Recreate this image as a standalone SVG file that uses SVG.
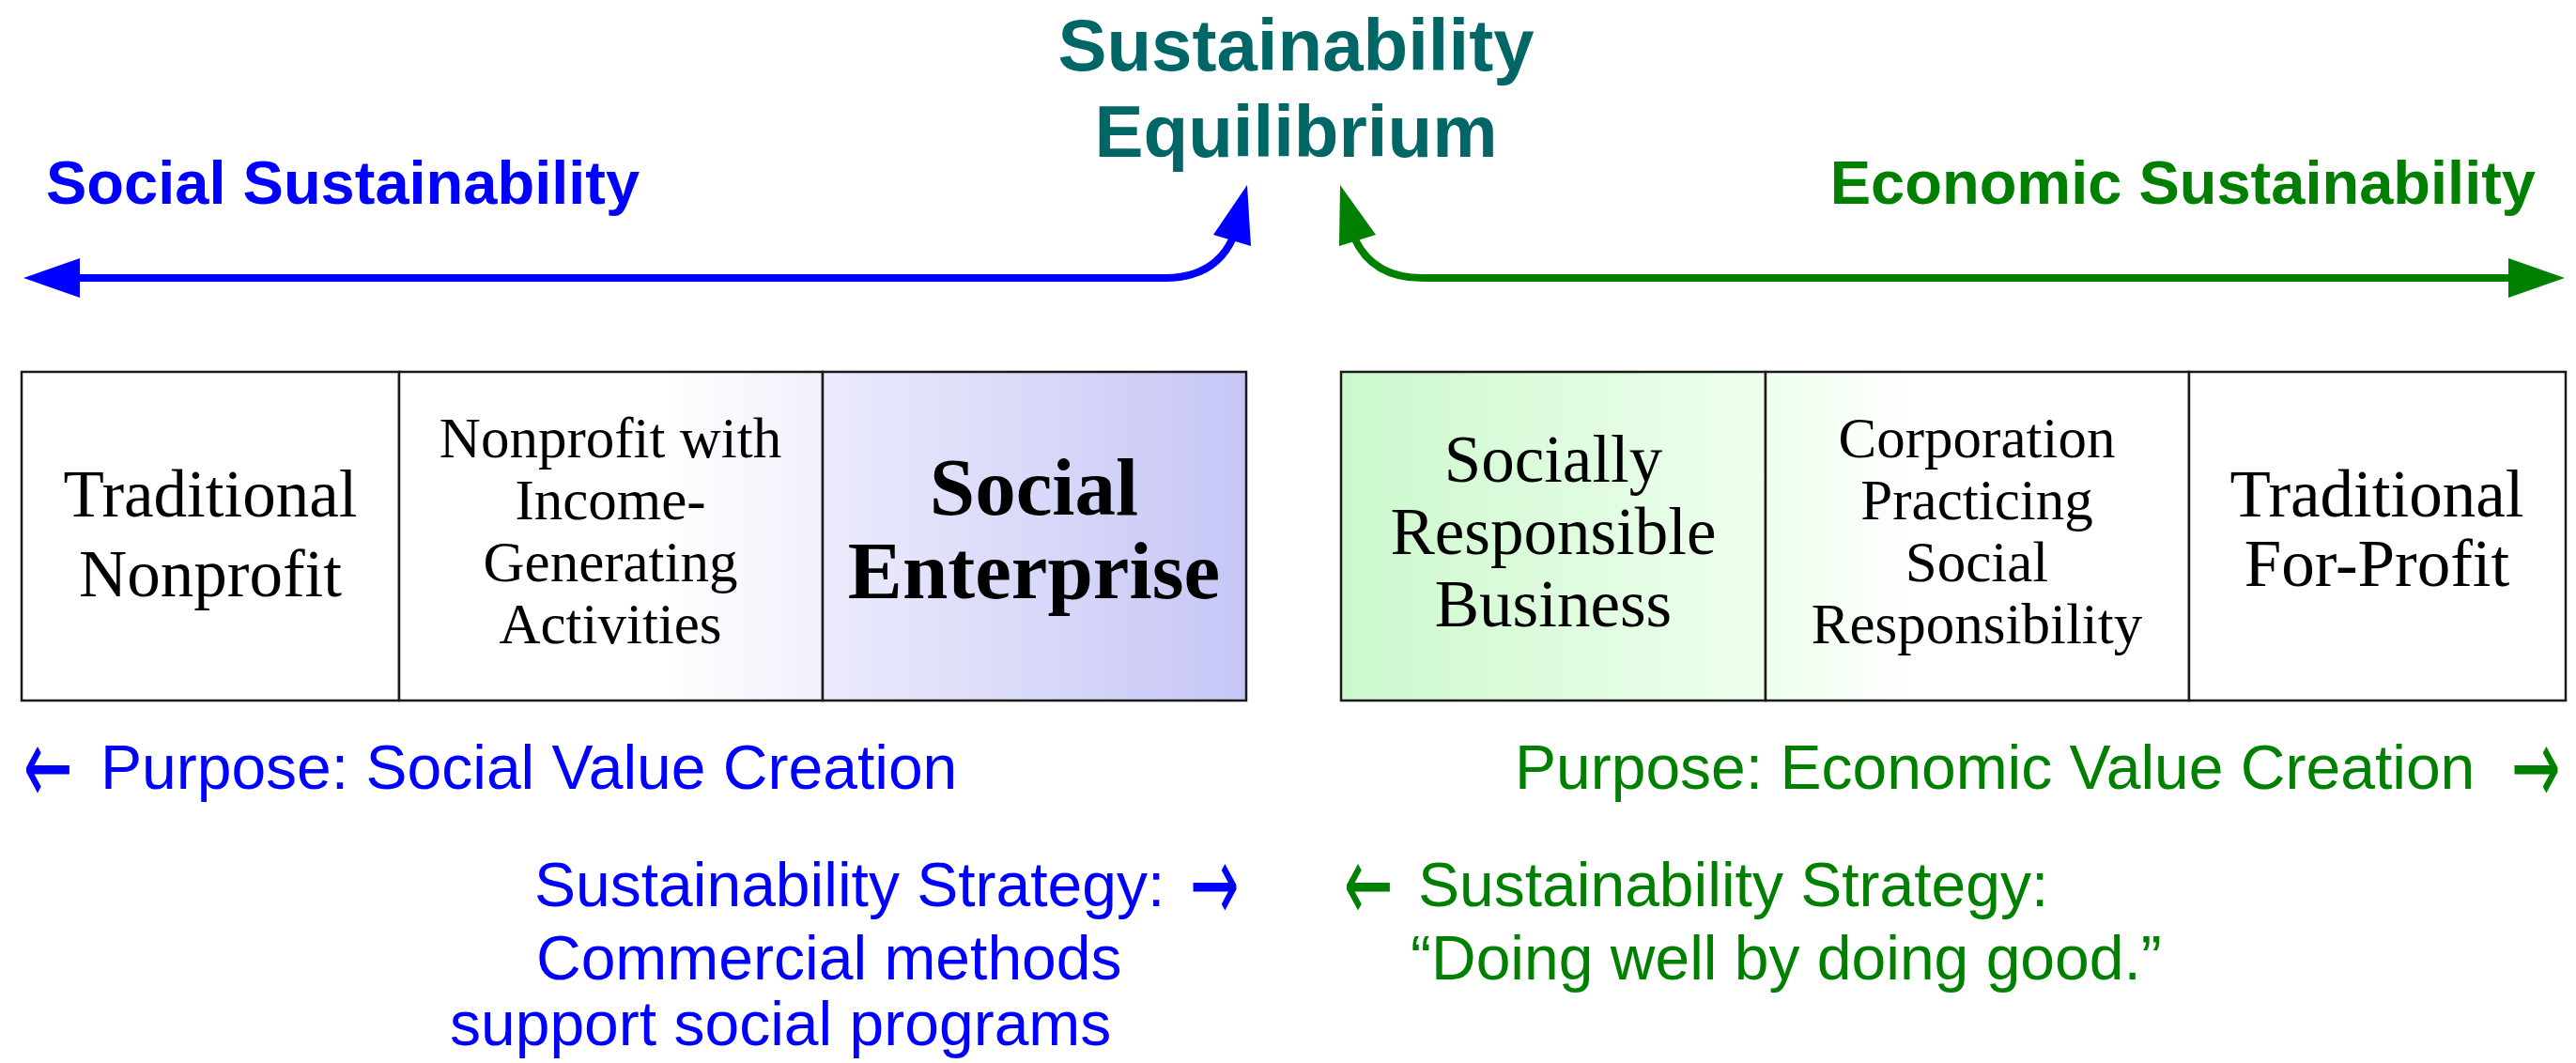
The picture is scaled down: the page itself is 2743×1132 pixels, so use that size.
<svg xmlns="http://www.w3.org/2000/svg" width="2743" height="1132" viewBox="0 0 2743 1132">
<defs>
<style>
.title{font-family:"Liberation Sans",Arial,sans-serif;font-weight:bold;font-size:78px;fill:#006666;text-anchor:middle}
.head{font-family:"Liberation Sans",Arial,sans-serif;font-weight:bold;font-size:65px}
.lbl{font-family:"Liberation Sans",Arial,sans-serif;font-size:66px}
.arr{font-family:"DejaVu Sans",sans-serif;font-size:66px}
.blue{fill:#0000ff}
.green{fill:#008000}
.cell{font-family:"Liberation Serif","Times New Roman",serif;fill:#000;text-anchor:middle}
.big{font-size:71px}
.mid{font-size:61px}
.bold{font-size:87px;font-weight:bold}
.box{stroke:#1a1a1a;stroke-width:2.5}
</style>
<linearGradient id="gL2" x1="0" y1="0" x2="1" y2="0">
<stop offset="0.62" stop-color="#ffffff"/>
<stop offset="1" stop-color="#f0f0fc"/>
</linearGradient>
<linearGradient id="gL3" x1="0" y1="0" x2="1" y2="0">
<stop offset="0" stop-color="#ebebfc"/>
<stop offset="1" stop-color="#c6c6f6"/>
</linearGradient>
<linearGradient id="gR1" x1="0" y1="0" x2="1" y2="0">
<stop offset="0" stop-color="#ccf8cc"/>
<stop offset="1" stop-color="#eeffee"/>
</linearGradient>
<linearGradient id="gR2" x1="0" y1="0" x2="1" y2="0">
<stop offset="0" stop-color="#eeffee"/>
<stop offset="0.36" stop-color="#ffffff"/>
</linearGradient>
</defs>
<rect width="2743" height="1132" fill="#ffffff"/>

<g id="title">
<text class="title" x="1380" y="75">Sustainability</text>
<text class="title" x="1380" y="167">Equilibrium</text>
</g>
<g id="social-sustainability">
<text class="head blue" x="49" y="217">Social Sustainability</text>
</g>
<g id="economic-sustainability">
<text class="head green" x="2700" y="217" text-anchor="end">Economic Sustainability</text>
</g>

<g id="connectors">
<path d="M85,296 H1240 C1275,296 1300,282 1313,253" fill="none" stroke="#0000ff" stroke-width="8"/>
<polygon points="25,296 85,275 85,317" fill="#0000ff"/>
<polygon points="1328,197 1292,250 1332,262" fill="#0000ff"/>
<path d="M2672,296 H1515 C1480,296 1455,282 1442,253" fill="none" stroke="#008000" stroke-width="8"/>
<polygon points="2731,296 2671,275 2671,317" fill="#008000"/>
<polygon points="1427,197 1426,262 1465,250" fill="#008000"/>
</g>

<g id="node-traditional-nonprofit">
<rect class="box" x="23" y="396" width="402" height="350" fill="#ffffff"/>
<text class="cell big" x="224" y="550">Traditional</text>
<text class="cell big" x="224" y="635">Nonprofit</text>
</g>
<g id="node-nonprofit-income">
<rect class="box" x="425" y="396" width="451" height="350" fill="url(#gL2)"/>
<text class="cell mid" x="650" y="487">Nonprofit with</text>
<text class="cell mid" x="650" y="553">Income-</text>
<text class="cell mid" x="650" y="619">Generating</text>
<text class="cell mid" x="650" y="685">Activities</text>
</g>
<g id="node-social-enterprise">
<rect class="box" x="876" y="396" width="451" height="350" fill="url(#gL3)"/>
<text class="cell bold" x="1101" y="548">Social</text>
<text class="cell bold" x="1101" y="637">Enterprise</text>
</g>

<g id="node-socially-responsible">
<rect class="box" x="1428" y="396" width="452" height="350" fill="url(#gR1)"/>
<text class="cell big" x="1654" y="513">Socially</text>
<text class="cell big" x="1654" y="590">Responsible</text>
<text class="cell big" x="1654" y="667">Business</text>
</g>
<g id="node-corporation-csr">
<rect class="box" x="1880" y="396" width="451" height="350" fill="url(#gR2)"/>
<text class="cell mid" x="2105" y="487">Corporation</text>
<text class="cell mid" x="2105" y="553">Practicing</text>
<text class="cell mid" x="2105" y="619">Social</text>
<text class="cell mid" x="2105" y="685">Responsibility</text>
</g>
<g id="node-traditional-forprofit">
<rect class="box" x="2331" y="396" width="401" height="350" fill="#ffffff"/>
<text class="cell big" x="2531" y="550">Traditional</text>
<text class="cell big" x="2531" y="624">For-Profit</text>
</g>

<g id="purpose-social">
<text class="arr blue" transform="translate(25,856) scale(0.95,1.75)">←</text>
<text class="lbl blue" x="107" y="840">Purpose: Social Value Creation</text>
</g>
<g id="purpose-economic">
<text class="lbl green" x="1613" y="840">Purpose: Economic Value Creation</text>
<text class="arr green" transform="translate(2674,856) scale(0.95,1.75)">→</text>
</g>
<g id="strategy-social">
<text class="lbl blue" x="569" y="965">Sustainability Strategy:</text>
<text class="arr blue" transform="translate(1267,981) scale(0.95,1.75)">→</text>
<text class="lbl blue" x="571" y="1043">Commercial methods</text>
<text class="lbl blue" x="479" y="1113">support social programs</text>
</g>
<g id="strategy-economic">
<text class="arr green" transform="translate(1431,981) scale(0.95,1.75)">←</text>
<text class="lbl green" x="1510" y="965">Sustainability Strategy:</text>
<text class="lbl green" x="1502" y="1043">“Doing well by doing good.”</text>
</g>
</svg>
